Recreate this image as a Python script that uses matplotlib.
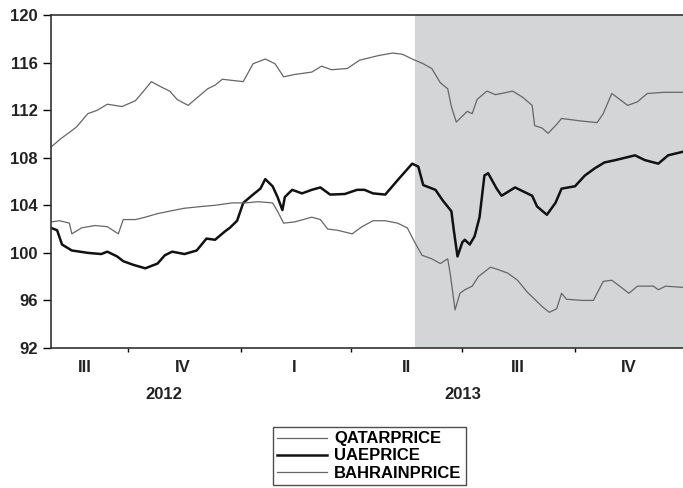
import matplotlib
matplotlib.use("Agg")
import matplotlib.pyplot as plt
import matplotlib.dates as mdates
import pandas as pd

plt.rcParams["font.family"] = ["Liberation Sans", "DejaVu Sans"]

qatar_dates = [
    "2012-07-30", "2012-08-07", "2012-08-15", "2012-08-20", "2012-08-29", "2012-09-06",
    "2012-09-14", "2012-09-26", "2012-10-07", "2012-10-12", "2012-10-20", "2012-10-27",
    "2012-11-04", "2012-11-10", "2012-11-19", "2012-11-27", "2012-12-05", "2012-12-11",
    "2012-12-17", "2012-12-25", "2013-01-03", "2013-01-11", "2013-01-21", "2013-01-29",
    "2013-02-05", "2013-02-14", "2013-02-28", "2013-03-08", "2013-03-16", "2013-03-29",
    "2013-04-08", "2013-04-24", "2013-05-05", "2013-05-13", "2013-05-21", "2013-05-30",
    "2013-06-06", "2013-06-13", "2013-06-19", "2013-06-22", "2013-06-26", "2013-07-05",
    "2013-07-09", "2013-07-13", "2013-07-21", "2013-07-28", "2013-08-11", "2013-08-19",
    "2013-08-27", "2013-08-29", "2013-09-04", "2013-09-09", "2013-09-16", "2013-09-20",
    "2013-10-05", "2013-10-19", "2013-10-24", "2013-10-31", "2013-11-04", "2013-11-13",
    "2013-11-21", "2013-11-29", "2013-12-13", "2013-12-28",
]
qatar = [
    108.9, 109.6, 110.2, 110.6, 111.7, 112.0,
    112.5, 112.3, 112.8, 113.4, 114.4, 114.0,
    113.6, 112.9, 112.4, 113.1, 113.8, 114.1,
    114.6, 114.5, 114.4, 115.9, 116.3, 115.9,
    114.8, 115.0, 115.2, 115.7, 115.4, 115.5,
    116.2, 116.6, 116.8, 116.7, 116.3, 115.9,
    115.5, 114.3, 113.8, 112.3, 111.0, 111.9,
    111.7, 112.9, 113.6, 113.3, 113.6, 113.1,
    112.4, 110.7, 110.5, 110.05, 110.8, 111.3,
    111.1, 110.95, 111.7, 113.4, 113.1, 112.4,
    112.7, 113.4, 113.5, 113.5,
]

uae_dates = [
    "2012-07-30", "2012-08-04", "2012-08-08", "2012-08-16", "2012-08-29", "2012-09-09",
    "2012-09-14", "2012-09-22", "2012-09-27", "2012-10-05", "2012-10-15", "2012-10-25",
    "2012-10-31", "2012-11-06", "2012-11-16", "2012-11-26", "2012-12-04", "2012-12-11",
    "2012-12-19", "2012-12-23", "2012-12-27", "2012-12-29", "2013-01-03", "2013-01-11",
    "2013-01-17", "2013-01-21", "2013-01-27", "2013-01-31", "2013-02-04", "2013-02-06",
    "2013-02-12", "2013-02-20", "2013-02-28", "2013-03-07", "2013-03-15", "2013-03-27",
    "2013-04-06", "2013-04-12", "2013-04-19", "2013-04-29", "2013-05-09", "2013-05-21",
    "2013-05-26", "2013-05-30", "2013-06-09", "2013-06-15", "2013-06-22", "2013-06-24",
    "2013-06-27", "2013-07-01", "2013-07-03", "2013-07-07", "2013-07-11", "2013-07-15",
    "2013-07-19", "2013-07-22", "2013-07-29", "2013-08-02", "2013-08-13", "2013-08-23",
    "2013-08-27", "2013-08-31", "2013-09-08", "2013-09-15", "2013-09-20", "2013-10-01",
    "2013-10-09", "2013-10-17", "2013-10-25", "2013-11-03", "2013-11-11", "2013-11-19",
    "2013-11-27", "2013-12-08", "2013-12-16", "2013-12-28",
]
uae = [
    102.1, 101.9, 100.7, 100.2, 100.0, 99.9,
    100.1, 99.7, 99.3, 99.0, 98.7, 99.1,
    99.8, 100.1, 99.9, 100.2, 101.2, 101.1,
    101.8, 102.1, 102.5, 102.7, 104.2, 104.9,
    105.4, 106.2, 105.6, 104.7, 103.6, 104.7,
    105.3, 105.0, 105.3, 105.5, 104.9, 104.95,
    105.3, 105.3, 105.0, 104.9, 106.1, 107.5,
    107.25, 105.7, 105.3, 104.4, 103.5, 101.9,
    99.7, 100.9, 101.1, 100.7, 101.4, 103.0,
    106.5, 106.7, 105.4, 104.8, 105.5, 105.0,
    104.8, 103.9, 103.2, 104.2, 105.4, 105.6,
    106.5, 107.1, 107.6, 107.8, 108.0, 108.2,
    107.8, 107.5, 108.2, 108.5,
]

bahrain_dates = [
    "2012-07-30", "2012-08-06", "2012-08-14", "2012-08-16", "2012-08-24", "2012-09-04",
    "2012-09-14", "2012-09-23", "2012-09-27", "2012-10-07", "2012-10-15", "2012-10-25",
    "2012-11-06", "2012-11-16", "2012-11-30", "2012-12-11", "2012-12-25", "2013-01-05",
    "2013-01-15", "2013-01-27", "2013-01-31", "2013-02-05", "2013-02-14", "2013-02-28",
    "2013-03-07", "2013-03-13", "2013-03-21", "2013-04-02", "2013-04-10", "2013-04-19",
    "2013-04-29", "2013-05-09", "2013-05-17", "2013-05-23", "2013-05-29", "2013-06-06",
    "2013-06-13", "2013-06-19", "2013-06-21", "2013-06-24", "2013-06-25", "2013-06-29",
    "2013-07-03", "2013-07-09", "2013-07-14", "2013-07-24", "2013-07-30", "2013-08-07",
    "2013-08-15", "2013-08-23", "2013-08-27", "2013-09-04", "2013-09-10", "2013-09-16",
    "2013-09-20", "2013-09-24", "2013-10-07", "2013-10-16", "2013-10-24", "2013-10-31",
    "2013-11-09", "2013-11-14", "2013-11-21", "2013-12-04", "2013-12-08", "2013-12-14",
    "2013-12-28",
]
bahrain = [
    102.6, 102.7, 102.5, 101.6, 102.1, 102.3,
    102.2, 101.6, 102.8, 102.8, 103.0, 103.3,
    103.55, 103.75, 103.9, 104.0, 104.2, 104.2,
    104.3, 104.2, 103.5, 102.5, 102.6, 103.0,
    102.8, 102.0, 101.9, 101.6, 102.2, 102.7,
    102.7, 102.5, 102.1, 100.9, 99.8, 99.5,
    99.1, 99.5, 98.3, 96.0, 95.2, 96.6,
    96.9, 97.2, 98.0, 98.8, 98.6, 98.3,
    97.7, 96.7, 96.3, 95.5, 95.0, 95.3,
    96.6, 96.1, 96.0, 96.0, 97.6, 97.7,
    97.0, 96.6, 97.2, 97.2, 96.9, 97.2,
    97.1,
]

series_names = ["QATARPRICE", "UAEPRICE", "BAHRAINPRICE"]
quarter_starts = ["2012-10-01", "2013-01-01", "2013-04-01", "2013-07-01", "2013-10-01"]
quarter_label_dates = ["2012-08-27", "2012-11-15", "2013-02-14", "2013-05-16", "2013-08-15", "2013-11-14"]
quarter_labels = ["III", "IV", "I", "II", "III", "IV"]
year_label_dates = ["2012-10-30", "2013-07-01"]
year_labels = ["2012", "2013"]
shade_start, x_start, x_end = "2013-05-23", "2012-07-30", "2013-12-29"

fig = plt.figure(figsize=(6.83, 4.88), dpi=100)
ax = fig.add_axes([51 / 683, 140 / 488, 633 / 683, 333 / 488])

ax.axvspan(pd.Timestamp(shade_start), pd.Timestamp(x_end), color="#d4d5d7", lw=0, zorder=0)

ax.plot(pd.to_datetime(qatar_dates), qatar, color="#666666", lw=0.9, label=series_names[0])
ax.plot(pd.to_datetime(uae_dates), uae, color="#111111", lw=1.8, label=series_names[1])
ax.plot(pd.to_datetime(bahrain_dates), bahrain, color="#666666", lw=0.9, label=series_names[2])

ax.set_xlim(pd.Timestamp(x_start), pd.Timestamp(x_end))
ax.set_ylim(92, 120)
ax.set_yticks(range(92, 121, 4))
ax.tick_params(axis="y", labelsize=12, length=5.5, width=1, direction="out", pad=4,
               labelcolor="#222222")
for lab in ax.get_yticklabels():
    lab.set_fontweight("bold")

ax.set_xticks(pd.to_datetime(quarter_starts))
ax.set_xticklabels([])
ax.tick_params(axis="x", length=3, width=1, direction="out")
for d, lab in zip(quarter_label_dates, quarter_labels):
    ax.text(mdates.date2num(pd.Timestamp(d)), -0.06, lab, transform=ax.get_xaxis_transform(),
            ha="center", va="center", fontsize=12, fontweight="bold", color="#222222")
for d, lab in zip(year_label_dates, year_labels):
    ax.text(mdates.date2num(pd.Timestamp(d)), -0.14, lab, transform=ax.get_xaxis_transform(),
            ha="center", va="center", fontsize=12, fontweight="bold", color="#222222")

for side in ["left", "bottom", "top"]:
    ax.spines[side].set_linewidth(1.2)
    ax.spines[side].set_color("#333333")
ax.spines["right"].set_visible(False)

leg = fig.legend(loc="center", bbox_to_anchor=(369.5 / 683, 1 - 456 / 488), frameon=True,
                 fancybox=False, edgecolor="#222222", handlelength=3.0, handletextpad=0.4,
                 labelspacing=0.12, borderpad=0.25, borderaxespad=0,
                 prop={"size": 12, "weight": "bold"})
leg.get_frame().set_linewidth(1.0)

fig.savefig("out.png", dpi=100)
